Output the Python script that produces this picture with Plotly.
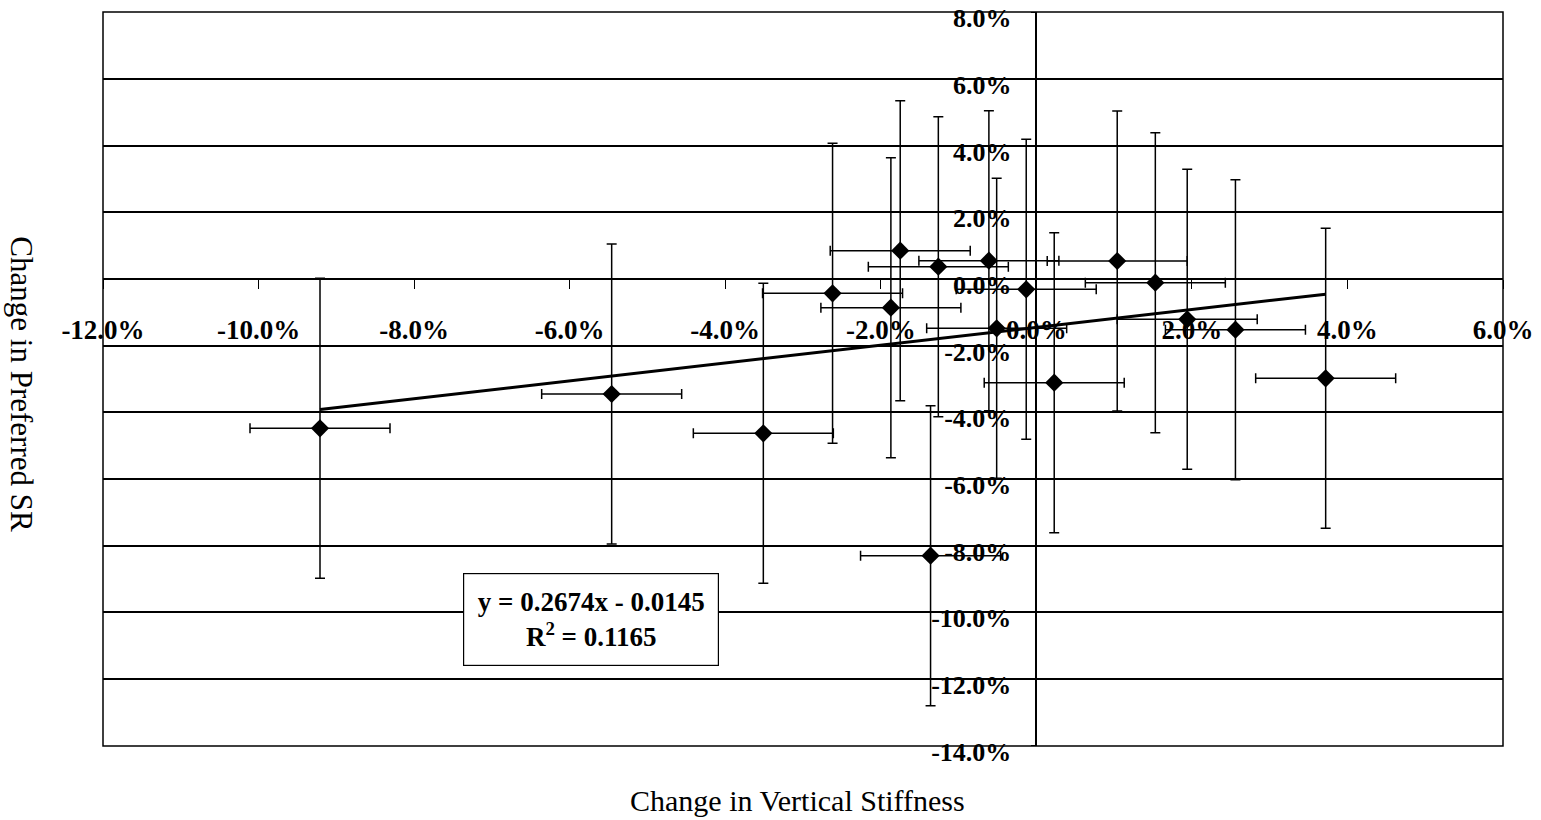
import plotly.graph_objects as go

# Data
stiffness_change = [-0.0921, -0.0546, -0.0351, -0.0262, -0.0187, -0.0175, -0.0126, -0.0136,
                    -0.0061, -0.0051, -0.0013, 0.0023, 0.0104, 0.0153, 0.0194, 0.0256, 0.0372]
sr_change = [-0.0448, -0.0345, -0.0463, -0.0043, -0.0086, 0.0085, 0.0037, -0.0830,
             0.0055, -0.0148, -0.0031, -0.0311, 0.0054, -0.0011, -0.0121, -0.0152, -0.0298]
x_error = 0.009
y_error = 0.045

trend_slope = 0.2674
trend_intercept = -0.0145
r_squared = 0.1165

x_tick_vals = [-0.12, -0.10, -0.08, -0.06, -0.04, -0.02, 0.0, 0.02, 0.04, 0.06]
x_tick_text = ["-12.0%", "-10.0%", "-8.0%", "-6.0%", "-4.0%", "-2.0%", "0.0%", "2.0%", "4.0%", "6.0%"]
y_tick_vals = [0.08, 0.06, 0.04, 0.02, 0.0, -0.02, -0.04, -0.06, -0.08, -0.10, -0.12, -0.14]
y_tick_text = ["8.0%", "6.0%", "4.0%", "2.0%", "0.0%", "-2.0%", "-4.0%", "-6.0%", "-8.0%",
               "-10.0%", "-12.0%", "-14.0%"]

X_RANGE = [-0.12, 0.06]
Y_RANGE = [-0.1401, 0.0801]

SERIF = "Liberation Serif, Times New Roman, serif"

fig = go.Figure()

# Linear trendline over the data extent
x_lo, x_hi = min(stiffness_change), max(stiffness_change)
fig.add_trace(go.Scatter(
    x=[x_lo, x_hi],
    y=[trend_slope * x_lo + trend_intercept, trend_slope * x_hi + trend_intercept],
    mode="lines", line=dict(color="black", width=3), hoverinfo="skip", showlegend=False,
))

fig.add_trace(go.Scatter(
    x=stiffness_change, y=sr_change, mode="markers",
    marker=dict(symbol="diamond", size=14, color="black"),
    error_x=dict(type="constant", value=x_error, color="black", thickness=1.5, width=5),
    error_y=dict(type="constant", value=y_error, color="black", thickness=1.5, width=5),
    showlegend=False,
))

axis_zero_y = (0 - Y_RANGE[0]) / (Y_RANGE[1] - Y_RANGE[0])
axis_zero_x = (0 - X_RANGE[0]) / (X_RANGE[1] - X_RANGE[0])

fig.update_layout(
    width=1541, height=820,
    margin=dict(l=103, r=38, t=12, b=74),
    paper_bgcolor="white", plot_bgcolor="white",
    font=dict(family=SERIF, color="black"),
    xaxis=dict(
        range=X_RANGE, tickvals=x_tick_vals, ticktext=x_tick_text,
        showgrid=False, zeroline=False, automargin=False,
        anchor="free", position=axis_zero_y,
        showline=True, linecolor="black", linewidth=1.5,
        ticks="outside", ticklen=9, tickcolor="black", tickwidth=1,
        ticklabelstandoff=18, ticklabeloverflow="allow",
        tickfont=dict(family=SERIF, size=27, color="black", weight="bold"),
    ),
    yaxis=dict(
        range=Y_RANGE, tickvals=y_tick_vals, ticktext=y_tick_text,
        showgrid=True, gridcolor="black", gridwidth=1.5, zeroline=False, automargin=False,
        anchor="free", position=axis_zero_x,
        showline=True, linecolor="black", linewidth=1.5,
        ticks="outside", ticklen=5, tickcolor="black",
        ticklabelstandoff=14, ticklabelshift=6, ticklabeloverflow="allow",
        tickfont=dict(family=SERIF, size=26, color="black", weight="bold"),
    ),
    shapes=[dict(type="rect", xref="paper", yref="paper", x0=0, x1=1, y0=0, y1=1,
                 line=dict(color="black", width=1.5), layer="above")],
    annotations=[
        dict(text="Change in Vertical Stiffness", xref="paper", yref="paper",
             x=0.4964, y=-0.074, xanchor="center", yanchor="middle", showarrow=False,
             font=dict(family=SERIF, size=30, color="black")),
        dict(text="Change in Preferred SR", xref="paper", yref="paper",
             x=-0.058, y=0.493, xanchor="center", yanchor="middle", showarrow=False,
             textangle=90, font=dict(family=SERIF, size=31, color="black")),
        dict(text=f"y = {trend_slope:.4f}x - {abs(trend_intercept):.4f}<br>R<sup>2</sup> = {r_squared:.4f}",
             x=-0.0573, y=-0.1022, xref="x", yref="y", showarrow=False,
             xanchor="center", yanchor="middle", align="center",
             width=252, height=89, bgcolor="white", bordercolor="black", borderwidth=1.2,
             font=dict(family=SERIF, size=27, color="black", weight="bold")),
    ],
)

fig.write_html("out.html")
